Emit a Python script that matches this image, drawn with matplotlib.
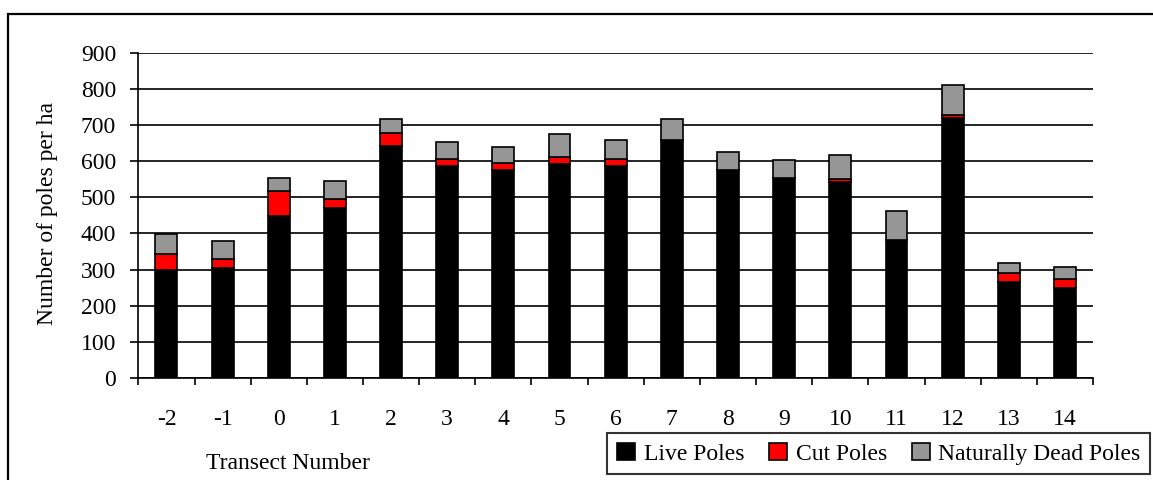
import matplotlib.pyplot as plt
from matplotlib.patches import Rectangle

transects = ['-2', '-1', '0', '1', '2', '3', '4', '5', '6', '7', '8', '9', '10', '11', '12', '13', '14']
live = [300, 305, 447, 470, 642, 587, 575, 592, 587, 658, 576, 552, 543, 382, 720, 267, 250]
cut = [42, 25, 70, 25, 36, 19, 19, 19, 19, 0, 0, 0, 7, 0, 7, 25, 25]
dead = [56, 50, 35, 50, 39, 46, 46, 64, 51, 59, 49, 51, 68, 81, 84, 27, 33]

plt.rcParams['font.family'] = ['Liberation Serif', 'DejaVu Serif']
plt.rcParams['font.size'] = 17

fig = plt.figure(figsize=(11.53, 4.8), dpi=100)
ax = fig.add_axes([0.12, 0.2119, 0.828, 0.6787])

x = list(range(len(transects)))
bottom2 = [a + b for a, b in zip(live, cut)]
w = 0.39
b1 = ax.bar(x, live, w, color='black', edgecolor='black', linewidth=1.2, label='Live Poles', zorder=3)
b2 = ax.bar(x, cut, w, bottom=live, color='#ff0000', edgecolor='black', linewidth=1.2, label='Cut Poles', zorder=3)
b3 = ax.bar(x, dead, w, bottom=bottom2, color='#969696', edgecolor='black', linewidth=1.2,
            label='Naturally Dead Poles', zorder=3)

ax.set_xlim(-0.5, len(transects) - 0.5)
ax.set_ylim(0, 900)
ax.set_yticks(range(0, 1000, 100))
ax.yaxis.grid(True, color='black', linewidth=1.2, zorder=0)
ax.set_axisbelow(True)

ax.set_xticks(x)
ax.set_xticklabels(transects)
ax.set_xticks([i - 0.5 for i in range(len(transects) + 1)], minor=True)
ax.tick_params(axis='x', which='major', length=0, pad=22)
ax.tick_params(axis='x', which='minor', length=5, width=1.2, direction='out')
ax.tick_params(axis='y', length=6, width=1.2, pad=10)

for s in ['top', 'right']:
    ax.spines[s].set_visible(False)
for s in ['left', 'bottom']:
    ax.spines[s].set_linewidth(1.2)

fig.text(0.0416, 0.556, 'Number of poles per ha', rotation=90, ha='center', va='center')
fig.text(0.25, 0.035, 'Transect Number', ha='center', va='center')

leg = fig.legend(handles=[b1, b2, b3], loc='lower right', bbox_to_anchor=(0.9974, 0.0125),
                 ncol=3, frameon=True, fancybox=False, edgecolor='black',
                 handlelength=0.78, handleheight=0.75, handletextpad=0.35,
                 columnspacing=1.05, borderpad=0.4, borderaxespad=0)
leg.get_frame().set_linewidth(1.5)

fig.patches.append(Rectangle((0.0069, -0.2), 1.5, 0.971 + 0.2, transform=fig.transFigure,
                             fill=False, edgecolor='black', linewidth=1.6))

fig.savefig('out.png', dpi=100)
